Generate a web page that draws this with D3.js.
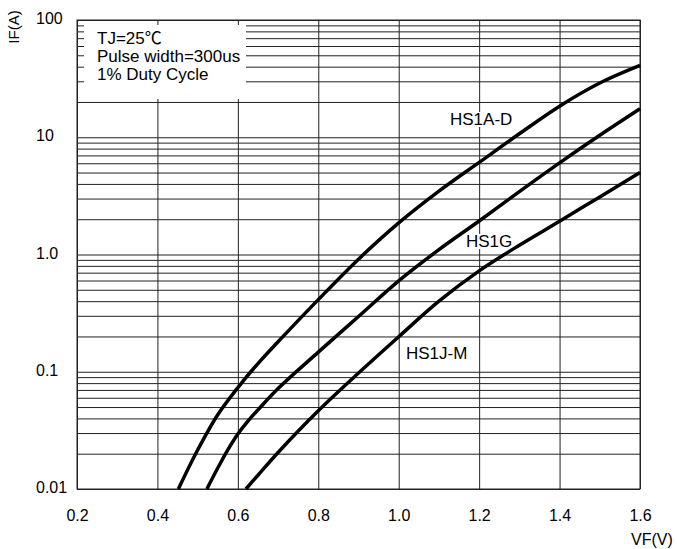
<!DOCTYPE html>
<html>
<head>
<meta charset="utf-8">
<script src="https://cdn.jsdelivr.net/npm/d3@7"></script>
<style>
  body { margin: 0; background: #fff; }
  text { font-family: "Liberation Sans", Arial, "Noto Sans CJK SC", sans-serif; fill: #000; }
</style>
</head>
<body>
<div id="chart"></div>
<script>
// tick values / labels
const xTicks = [0.2, 0.4, 0.6, 0.8, 1.0, 1.2, 1.4, 1.6];
const xTickLabels = ["0.2", "0.4", "0.6", "0.8", "1.0", "1.2", "1.4", "1.6"];
const yTicks = [0.01, 0.1, 1, 10, 100];
const yTickLabels = ["0.01", "0.1", "1.0", "10", "100"];

// curves (VF in V, IF in A)
const vfA = [0.452, 0.5, 0.55, 0.6, 0.65, 0.7, 0.8, 0.9, 1.0, 1.1, 1.2, 1.3, 1.4, 1.5, 1.6];
const ifA = [0.01, 0.0215, 0.043, 0.0733, 0.1175, 0.18, 0.412, 0.912, 1.86, 3.47, 6.1, 10.7, 18.4, 29.0, 41.0];

const vfG = [0.523, 0.55, 0.575, 0.6, 0.625, 0.65, 0.7, 0.8, 0.9, 1.0, 1.1, 1.2, 1.3, 1.4, 1.5, 1.6];
const ifG = [0.01, 0.0151, 0.0216, 0.0295, 0.038, 0.0473, 0.072, 0.147, 0.296, 0.596, 1.10, 1.93, 3.44, 6.05, 10.4, 17.5];

const vfJ = [0.62, 0.65, 0.7, 0.8, 0.9, 1.0, 1.1, 1.2, 1.3, 1.4, 1.5, 1.6];
const ifJ = [0.01, 0.0131, 0.0205, 0.0465, 0.0975, 0.199, 0.40, 0.725, 1.2, 1.92, 3.1, 5.0];

const seriesNames = ["HS1A-D", "HS1G", "HS1J-M"];
const legendLines = ["TJ=25\u2103", "Pulse width=300us", "1% Duty Cycle"];

const width = 677, height = 549;
const mLeft = 77, mRight = 640, mTop = 20, mBottom = 489;

const svg = d3.select("#chart")
  .append("svg")
  .attr("width", width)
  .attr("height", height);

const x = d3.scaleLinear().domain([0.2, 1.6]).range([mLeft, mRight]);
const y = d3.scaleLog().domain([0.01, 100]).range([mBottom, mTop]);

// all horizontal grid lines: 1..9 in every decade
let yGrid = [];
for (let e = -2; e < 2; e++) {
  for (let m = 1; m <= 9; m++) yGrid.push(m * Math.pow(10, e));
}
yGrid.push(100);

const grid = svg.append("g");

grid.append("g")
  .attr("transform", `translate(${mLeft},0)`)
  .call(d3.axisLeft(y).tickValues(yGrid).tickSize(-(mRight - mLeft)).tickFormat(""))
  .call(g => g.select(".domain").remove())
  .selectAll("line").attr("stroke", "#222");

grid.append("g")
  .attr("transform", `translate(0,${mBottom})`)
  .call(d3.axisBottom(x).tickValues(xTicks).tickSize(-(mBottom - mTop)).tickFormat(""))
  .call(g => g.select(".domain").remove())
  .selectAll("line").attr("stroke", "#222");

grid.append("rect")
  .attr("x", mLeft).attr("y", mTop)
  .attr("width", mRight - mLeft).attr("height", mBottom - mTop)
  .attr("fill", "none").attr("stroke", "#222");

// legend box covers the grid
svg.append("rect")
  .attr("x", 84).attr("y", 25)
  .attr("width", 162).attr("height", 74)
  .attr("fill", "#fff");

svg.append("g")
  .selectAll("text")
  .data(legendLines)
  .enter().append("text")
  .attr("x", 97)
  .attr("y", (d, i) => 43.5 + i * 18.3)
  .attr("font-size", 17)
  .text(d => d);

// axis labels
const yAxis = svg.append("g")
  .attr("transform", `translate(${mLeft},0)`)
  .call(d3.axisLeft(y).tickValues(yTicks).tickSize(0).tickFormat((d, i) => yTickLabels[i]));
yAxis.select(".domain").remove();
yAxis.attr("font-family", null).attr("font-size", null);
yAxis.selectAll("text")
  .attr("x", 36 - mLeft)
  .attr("dy", "0.22em")
  .attr("text-anchor", "start")
  .attr("font-size", 16);

const xAxis = svg.append("g")
  .attr("transform", `translate(0,${mBottom})`)
  .call(d3.axisBottom(x).tickValues(xTicks).tickSize(0).tickFormat((d, i) => xTickLabels[i]));
xAxis.select(".domain").remove();
xAxis.attr("font-family", null).attr("font-size", null);
xAxis.selectAll("text")
  .attr("y", 32)
  .attr("dy", 0)
  .attr("font-size", 16);

svg.append("text")
  .attr("x", 631).attr("y", 545)
  .attr("font-size", 16)
  .text("VF(V)");

svg.append("text")
  .attr("transform", "translate(18.5,27) rotate(-90)")
  .attr("text-anchor", "middle")
  .attr("font-size", 15)
  .text("IF(A)");

// curve labels with white backing
const labelPos = [[450, 125], [466, 247], [406, 359]];
const lab = svg.append("g");
seriesNames.forEach((name, i) => {
  const t = lab.append("text")
    .attr("x", labelPos[i][0]).attr("y", labelPos[i][1])
    .attr("font-size", 17)
    .text(name);
  const b = t.node().getBBox();
  lab.insert("rect", "text")
    .attr("x", b.x - 1).attr("y", b.y + 2)
    .attr("width", b.width + 2).attr("height", b.height - 4)
    .attr("fill", "#fff");
});

// curves
const line = d3.line()
  .x(d => x(d[0]))
  .y(d => y(d[1]))
  .curve(d3.curveCatmullRom.alpha(0.5));

const curves = [d3.zip(vfA, ifA), d3.zip(vfG, ifG), d3.zip(vfJ, ifJ)];

svg.selectAll(".curve")
  .data(curves)
  .enter().append("path")
  .attr("class", "curve")
  .attr("d", line)
  .attr("fill", "none")
  .attr("stroke", "#000")
  .attr("stroke-width", 3.5)
  .attr("stroke-linecap", "butt");
</script>
</body>
</html>
